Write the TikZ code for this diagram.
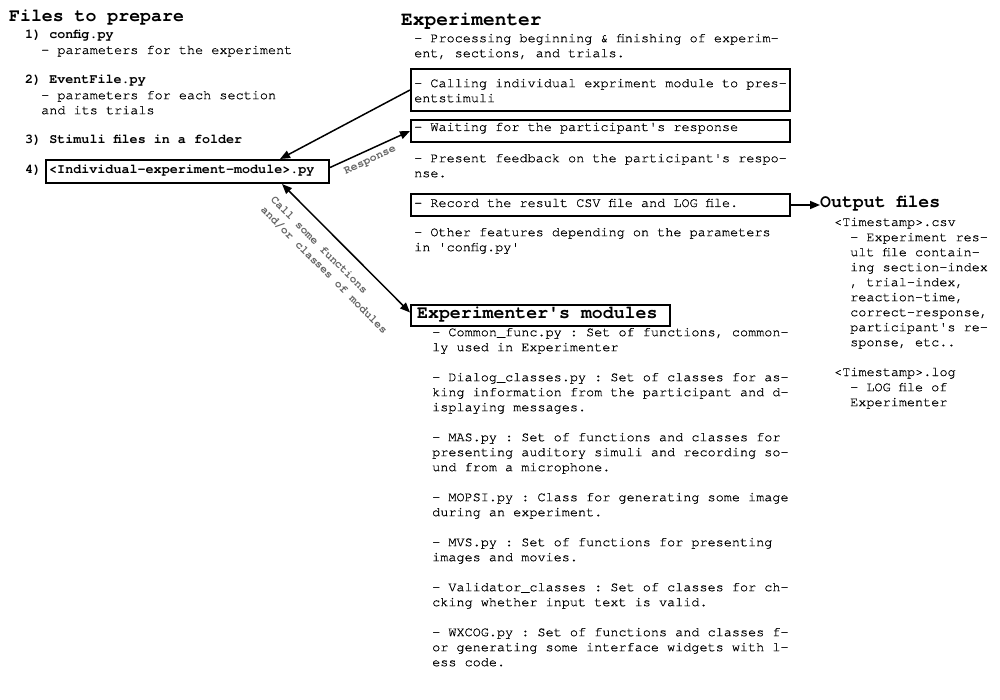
\documentclass[tikz,border=0pt]{standalone}
\usepackage{fontspec}
\setmonofont{texgyrecursor-regular.otf}[BoldFont=texgyrecursor-bold.otf, UprightFeatures={FakeBold=0.6}]
\usetikzlibrary{arrows.meta}
\newcommand\bodyfont{\ttfamily\fontsize{13.5}{15}\selectfont}
\newcommand\bodybold{\ttfamily\bfseries\fontsize{13.4}{15}\selectfont}
\newcommand\headfont{\ttfamily\bfseries\fontsize{18.2}{20}\selectfont}
\newcommand\bigheadfont{\ttfamily\bfseries\fontsize{19.5}{22}\selectfont}
\newcommand\lblfont{\ttfamily\bfseries\fontsize{11.6}{14}\selectfont}
\begin{document}
\begin{tikzpicture}[x=1pt,y=-1pt,
  txtline/.style={anchor=base west, inner sep=0, font=\bodyfont},
  para/.style={anchor=north west, inner sep=0, align=left, font=\bodyfont},
  itemtxt/.style={anchor=base west, inner sep=0, font=\bodybold},
  hd/.style={anchor=base west, inner sep=0, font=\headfont},
  boxframe/.style={draw, line width=2pt, anchor=north west, inner sep=0},
  arr/.style={line width=1.5pt, -{Triangle[length=10pt,width=8pt]}},
  darr/.style={line width=1.5pt, {Triangle[length=10pt,width=8pt]}-{Triangle[length=10pt,width=8pt]}},
  lbl/.style={font=\lblfont, text=black!60, inner sep=1pt}
]
\useasboundingbox[fill=white] (0,0) rectangle (1000,700);

% ---------- Files to prepare ----------
\node[hd] (files) at (9,22) {Files to prepare};
\node[itemtxt] (f1) at (25,39) {1) config.py};
\node[txtline] (f1d) at (41,54) {- parameters for the experiment};
\node[itemtxt] (f2) at (25,84) {2) EventFile.py};
\node[para] (f2d) at (41,88.5) {\strut- parameters for each section\\and its trials};
\node[itemtxt] (f3) at (25,144) {3) Stimuli files in a folder};
\node[itemtxt] (f4) at (25,174) {4)};
\node[boxframe, minimum width=283pt, minimum height=23pt] (modbox) at (45,159) {};
\node[itemtxt] (modtxt) at (49,174) {<Individual-experiment-module>.py};

% ---------- Experimenter ----------
\node[anchor=base west, inner sep=0, font=\bigheadfont] (exphead) at (401,26) {Experimenter};
\node[para] (e1) at (414,31.5) {\strut- Processing beginning \& finishing of experim-\\ent, sections, and trials.};
\node[boxframe, minimum width=379pt, minimum height=42pt] (box1) at (410,68) {};
\node[para] (e2) at (414,76.5) {\strut- Calling individual expriment module to pres-\\entstimuli};
\node[boxframe, minimum width=379pt, minimum height=22pt] (box2) at (410,119) {};
\node[txtline] (e3) at (414,131) {- Waiting for the participant's response};
\node[para] (e4) at (414,151.5) {\strut- Present feedback on the participant's respo-\\nse.};
\node[boxframe, minimum width=379pt, minimum height=22pt] (box3) at (410,193) {};
\node[txtline] (e5) at (414,207) {- Record the result CSV file and LOG file.};
\node[para] (e6) at (414,225.5) {\strut- Other features depending on the parameters\\in 'config.py'};

% ---------- Output files ----------
\node[hd] (outhead) at (820,208) {Output files};
\node[txtline] (csv) at (834,226) {<Timestamp>.csv};
\node[para] (csvd) at (850,230.5) {\strut- Experiment res-\\ult file contain-\\ing section-index\\, trial-index,\\reaction-time,\\correct-response,\\participant's re-\\sponse, etc..};
\node[txtline] (log) at (834,376) {<Timestamp>.log};
\node[para] (logd) at (850,380.5) {\strut- LOG file of\\Experimenter};

% ---------- Experimenter's modules ----------
\node[boxframe, minimum width=259pt, minimum height=21pt] (box4) at (410,304) {};
\node[hd] (modhead) at (417,318) {Experimenter's modules};
\node[para] (m1) at (432,325.5) {\strut- Common\_func.py : Set of functions, common-\\ly used in Experimenter};
\node[para] (m2) at (432,370.5) {\strut- Dialog\_classes.py : Set of classes for as-\\king information from the participant and d-\\isplaying messages.};
\node[para] (m3) at (432,430.5) {\strut- MAS.py : Set of functions and classes for\\presenting auditory simuli and recording so-\\und from a microphone.};
\node[para] (m4) at (432,490.5) {\strut- MOPSI.py : Class for generating some image\\during an experiment.};
\node[para] (m5) at (432,535.5) {\strut- MVS.py : Set of functions for presenting\\images and movies.};
\node[para] (m6) at (432,580.5) {\strut- Validator\_classes : Set of classes for ch-\\cking whether input text is valid.};
\node[para] (m7) at (432,625.5) {\strut- WXCOG.py : Set of functions and classes f-\\or generating some interface widgets with l-\\ess code.};

% ---------- Connectors ----------
\draw[arr] (box1.west) -- ([xshift=-50pt]modbox.north east);
\draw[arr] ([yshift=4pt]modbox.east) -- (box2.west)
  node[lbl, sloped, pos=0.45, below=4pt] {Response};
\draw[darr] ([xshift=-48pt]modbox.south east) -- ([yshift=3pt]box4.west)
  node[lbl, sloped, pos=0.5, below=11pt, align=left] {Call some functions\\and/or classes of modules};
\draw[arr] (box3.east) -- (box3.east -| outhead.west);
\end{tikzpicture}
\end{document}
